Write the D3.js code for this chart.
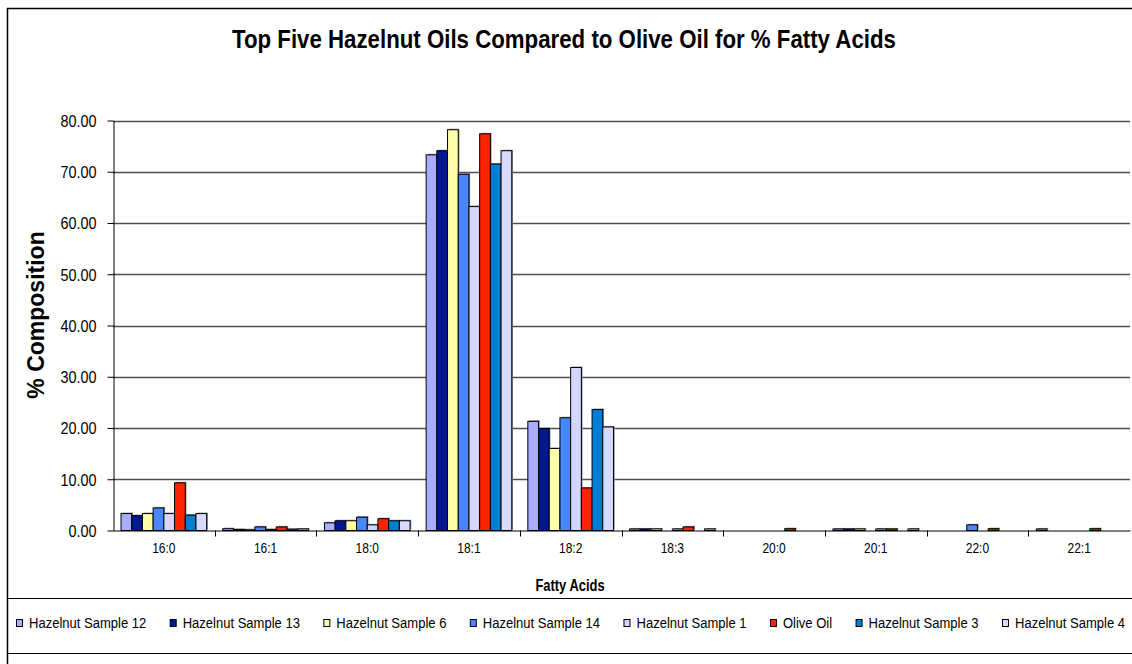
<!DOCTYPE html>
<html>
<head>
<meta charset="utf-8">
<script src="https://cdn.jsdelivr.net/npm/d3@7"></script>
<style>
  html, body { margin: 0; padding: 0; background: #fff; }
  svg { display: block; font-family: "Liberation Sans", Arial, sans-serif; }
</style>
</head>
<body>
<svg id="chart" width="1132" height="664"></svg>
<script>
// Fatty acid composition (%), one array per oil sample
const categories = ["16:0", "16:1", "18:0", "18:1", "18:2", "18:3", "20:0", "20:1", "22:0", "22:1"];
const seriesNames = ["Hazelnut Sample 12", "Hazelnut Sample 13", "Hazelnut Sample 6", "Hazelnut Sample 14",
                     "Hazelnut Sample 1", "Olive Oil", "Hazelnut Sample 3", "Hazelnut Sample 4"];
const sample12 = [3.3, 0.35, 1.5, 73.3, 21.3, 0.3, 0, 0.3, 0, 0.3];
const sample13 = [2.9, 0.2, 1.9, 74.1, 19.9, 0.3, 0, 0.3, 0, 0];
const sample6  = [3.3, 0.15, 1.9, 78.2, 16.0, 0.3, 0, 0.3, 0, 0];
const sample14 = [4.4, 0.7, 2.6, 69.5, 22.0, 0, 0, 0, 1.1, 0];
const sample1  = [3.3, 0.2, 1.1, 63.2, 31.8, 0.3, 0, 0.3, 0, 0];
const oliveOil = [9.3, 0.7, 2.3, 77.4, 8.3, 0.7, 0.35, 0.3, 0.35, 0.35];
const sample3  = [3.0, 0.25, 1.9, 71.5, 23.6, 0, 0, 0, 0, 0];
const sample4  = [3.3, 0.3, 1.9, 74.1, 20.2, 0.3, 0, 0.3, 0, 0];
const seriesValues = [sample12, sample13, sample6, sample14, sample1, oliveOil, sample3, sample4];
const seriesColors = ["#a9adff", "#02188f", "#ffffaa", "#4a86ff", "#d4d6ff", "#ff2400", "#007ed6", "#d8daff"];
const yTicks = [0, 10, 20, 30, 40, 50, 60, 70, 80];

const svg = d3.select("#chart");
const W = 1132, H = 664;
const plot = { left: 113, right: 1130, top: 120.5, bottom: 530.5 };

// squeeze text horizontally to give the narrow lettering of the chart
function condense(sel, factor) {
  sel.each(function () {
    const w = this.getComputedTextLength();
    d3.select(this).attr("textLength", w * factor).attr("lengthAdjust", "spacingAndGlyphs");
  });
  return sel;
}

svg.append("rect").attr("width", W).attr("height", H).attr("fill", "#fff");

// chart frame (runs off the right and bottom edges)
svg.append("rect")
  .attr("x", 7.5).attr("y", 8.5).attr("width", 1200).attr("height", 700)
  .attr("fill", "none").attr("stroke", "#000").attr("stroke-width", 1.5);

const x0 = d3.scaleBand().domain(categories).range([plot.left, plot.right]).padding(0);
const x1 = d3.scaleBand().domain(seriesNames).range([0, x0.bandwidth()])
  .paddingInner(0).paddingOuter(0.75);
const y = d3.scaleLinear().domain([0, 80]).range([plot.bottom, plot.top]);

// horizontal gridlines
svg.append("g")
  .selectAll("line")
  .data(yTicks.filter(d => d > 0))
  .join("line")
  .attr("x1", plot.left).attr("x2", plot.right)
  .attr("y1", d => Math.round(y(d)) + 0.5).attr("y2", d => Math.round(y(d)) + 0.5)
  .attr("stroke", "#4f4f4f").attr("stroke-width", 1.7);

// bars
const groups = svg.append("g")
  .selectAll("g")
  .data(seriesNames.map((name, i) => ({ name, color: seriesColors[i], values: seriesValues[i] })))
  .join("g");

groups.selectAll("rect.shadow")
  .data(s => s.values.map((v, j) => ({ v, cat: categories[j], name: s.name })))
  .join("rect")
  .attr("class", "shadow")
  .attr("x", d => x0(d.cat) + x1(d.name) + 1.2)
  .attr("y", d => y(d.v) - 1)
  .attr("width", x1.bandwidth())
  .attr("height", d => Math.max(0, y(0) - y(d.v)))
  .attr("fill", "#8a8a8a")
  .attr("display", d => d.v > 0 ? null : "none");

groups.selectAll("rect.bar")
  .data(s => s.values.map((v, j) => ({ v, cat: categories[j], name: s.name, color: s.color })))
  .join("rect")
  .attr("class", "bar")
  .attr("x", d => x0(d.cat) + x1(d.name))
  .attr("y", d => y(d.v))
  .attr("width", x1.bandwidth())
  .attr("height", d => Math.max(0, y(0) - y(d.v)))
  .attr("fill", d => d.color)
  .attr("stroke", "#000").attr("stroke-width", 1)
  .attr("display", d => d.v > 0 ? null : "none");

// y axis
const yAxis = svg.append("g")
  .attr("transform", `translate(${plot.left + 0.5},0)`)
  .call(d3.axisLeft(y).tickValues(yTicks).tickSize(6).tickSizeOuter(0).tickFormat(d3.format(".2f")));
yAxis.select(".domain").attr("stroke", "#000");
yAxis.selectAll(".tick line").attr("stroke", "#000");
yAxis.selectAll(".tick text")
  .attr("x", -17).attr("dy", "0.36em")
  .attr("font-size", 16).attr("fill", "#000")
  .attr("font-family", "Liberation Sans, Arial, sans-serif")
  .call(condense, 0.9);

// x axis
const xAxis = svg.append("g")
  .attr("transform", `translate(0,${plot.bottom})`)
  .call(d3.axisBottom(x0).tickSize(0).tickSizeOuter(0));
xAxis.select(".domain").attr("stroke", "#000");
xAxis.selectAll(".tick text")
  .attr("y", 12).attr("dy", "0.71em")
  .attr("font-size", 15).attr("fill", "#000")
  .attr("font-family", "Liberation Sans, Arial, sans-serif")
  .call(condense, 0.8);
// category boundary ticks
svg.append("g")
  .selectAll("line")
  .data(categories.slice(1))
  .join("line")
  .attr("x1", d => Math.round(x0(d)) + 0.5).attr("x2", d => Math.round(x0(d)) + 0.5)
  .attr("y1", plot.bottom).attr("y2", plot.bottom + 6)
  .attr("stroke", "#000");

// titles
svg.append("text")
  .attr("x", 564).attr("y", 48)
  .attr("text-anchor", "middle")
  .attr("font-size", 25).attr("font-weight", "bold")
  .text("Top Five Hazelnut Oils Compared to Olive Oil for % Fatty Acids")
  .call(condense, 0.89);

svg.append("text")
  .attr("transform", "translate(44,315) rotate(-90)")
  .attr("text-anchor", "middle")
  .attr("font-size", 23).attr("font-weight", "bold")
  .text("% Composition");

svg.append("text")
  .attr("x", 570).attr("y", 591)
  .attr("text-anchor", "middle")
  .attr("font-size", 17).attr("font-weight", "bold")
  .text("Fatty Acids")
  .call(condense, 0.76);

// legend box
svg.append("line").attr("x1", 7).attr("x2", W).attr("y1", 598.5).attr("y2", 598.5)
  .attr("stroke", "#000").attr("stroke-width", 1);
svg.append("line").attr("x1", 7).attr("x2", W).attr("y1", 653.5).attr("y2", 653.5)
  .attr("stroke", "#000").attr("stroke-width", 1);

const legend = svg.append("g")
  .selectAll("g")
  .data(seriesNames)
  .join("g");
legend.append("rect")
  .attr("x", 0.5).attr("y", -3.5).attr("width", 6).attr("height", 7)
  .attr("fill", (d, i) => seriesColors[i]).attr("stroke", "#000").attr("stroke-width", 1);
const legendText = legend.append("text")
  .attr("x", 13).attr("dy", "0.36em")
  .attr("font-size", 14)
  .text(d => d)
  .call(condense, 0.93);

// lay entries out in one row: equal gaps, first marker at 16, last at 1002
const widths = [];
legendText.each(function () { widths.push(+d3.select(this).attr("textLength")); });
const firstX = 16, lastX = 1002;
const used = d3.sum(widths.slice(0, -1)) + 13 * (widths.length - 1);
const gap = (lastX - firstX - used) / (widths.length - 1);
let cx = firstX;
legend.attr("transform", (d, i) => {
  const t = `translate(${cx},623)`;
  cx += 13 + widths[i] + gap;
  return t;
});
</script>
</body>
</html>
